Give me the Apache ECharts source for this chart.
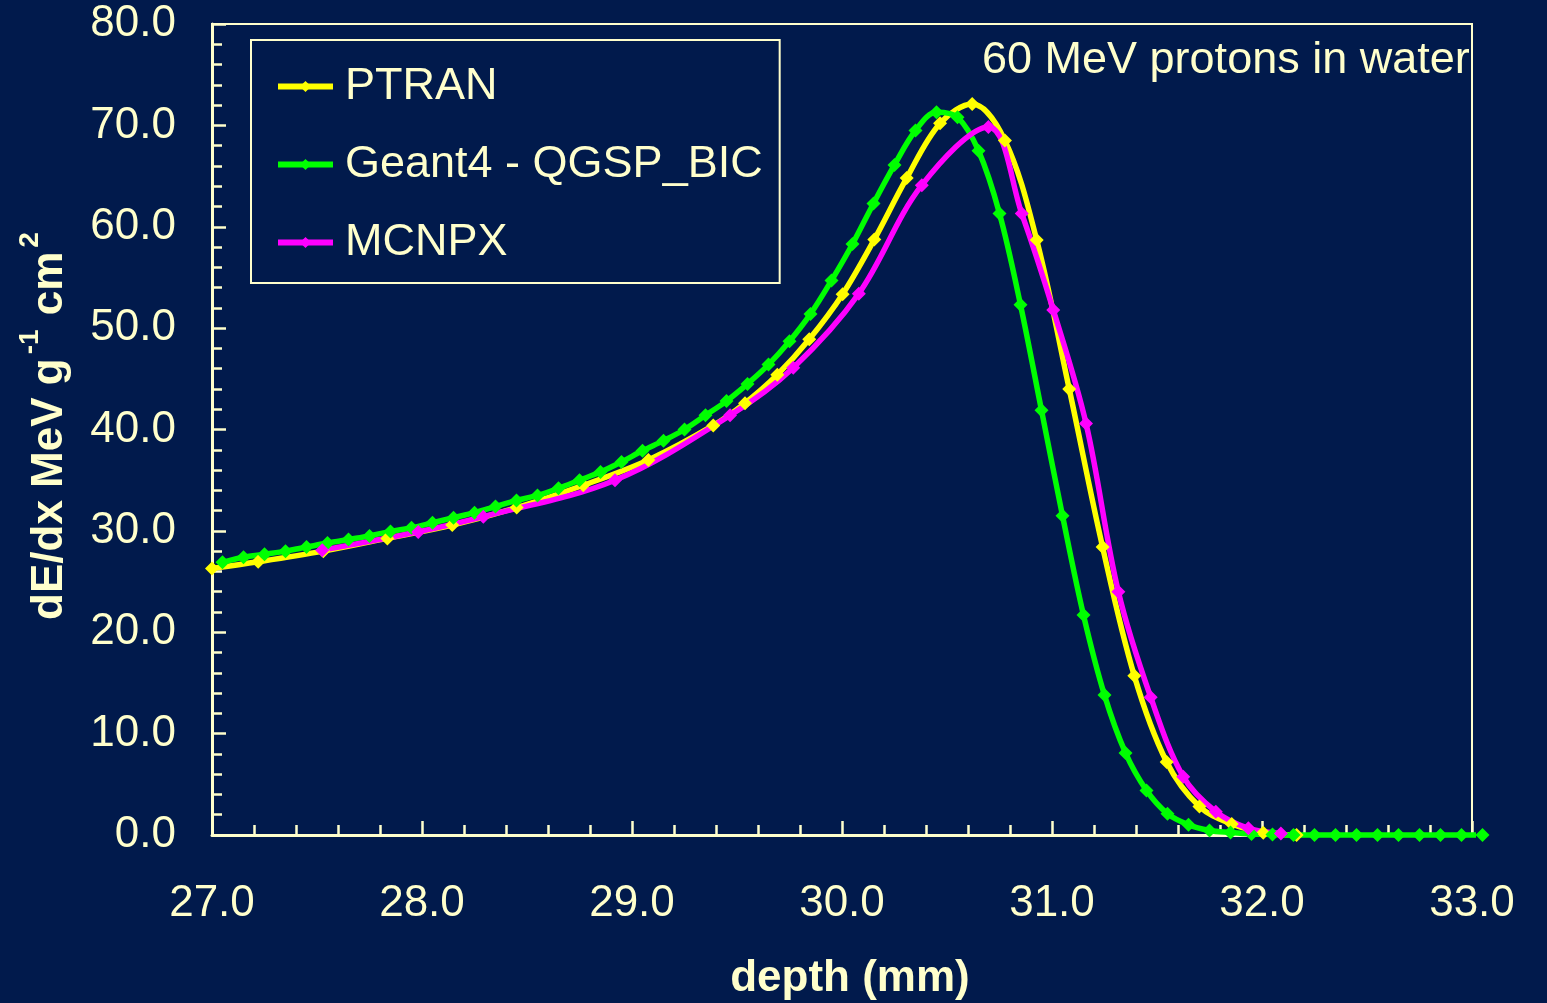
<!DOCTYPE html>
<html>
<head>
<meta charset="utf-8">
<title>Bragg peak – 60 MeV protons in water</title>
<script src="https://cdn.jsdelivr.net/npm/echarts@6/dist/echarts.min.js"></script>
<style>
  html, body { margin: 0; padding: 0; background: #011A4C; }
  #chart { width: 1547px; height: 1003px; }
</style>
</head>
<body>
<div id="chart"></div>
<script>
// Stopping power dE/dx (MeV g^-1 cm^2) versus depth (mm) for three transport codes
const seriesNames = ['PTRAN', 'Geant4 - QGSP_BIC', 'MCNPX'];

const ptranDepth = [27.0, 27.22, 27.53, 27.835, 28.144, 28.451, 28.768, 29.078, 29.387, 29.538,
  29.692, 29.844, 30.003, 30.154, 30.308, 30.467, 30.62, 30.776, 30.927, 31.082,
  31.241, 31.392, 31.546, 31.702, 31.856, 32.006, 32.165];
const ptranDedx = [26.3, 26.95, 28.0, 29.26, 30.57, 32.3, 34.5, 37.0, 40.4, 42.6,
  45.4, 48.9, 53.35, 58.75, 64.8, 70.2, 72.1, 68.5, 58.7, 44.0,
  28.4, 15.7, 7.2, 2.8, 1.08, 0.23, 0.0];

const geantDepth = [27.05, 27.15, 27.25, 27.35, 27.45, 27.55, 27.65, 27.75, 27.85, 27.95,
  28.05, 28.15, 28.25, 28.35, 28.45, 28.55, 28.65, 28.75, 28.85, 28.95,
  29.05, 29.15, 29.25, 29.35, 29.45, 29.55, 29.65, 29.75, 29.85, 29.95,
  30.05, 30.15, 30.25, 30.35, 30.45, 30.55, 30.65, 30.75, 30.85, 30.95,
  31.05, 31.15, 31.25, 31.35, 31.45, 31.55, 31.65, 31.75, 31.85, 31.95,
  32.05, 32.15, 32.25, 32.35, 32.45, 32.55, 32.65, 32.75, 32.85, 32.95, 33.05];
const geantDedx = [26.9, 27.4, 27.7, 28.0, 28.4, 28.8, 29.15, 29.5, 29.95, 30.3,
  30.8, 31.3, 31.8, 32.4, 33.0, 33.5, 34.2, 35.0, 35.8, 36.8,
  37.9, 38.9, 40.0, 41.4, 42.8, 44.5, 46.4, 48.7, 51.4, 54.7,
  58.3, 62.3, 66.1, 69.5, 71.3, 70.8, 67.5, 61.3, 52.3, 41.9,
  31.5, 21.7, 13.8, 8.1, 4.4, 2.1, 1.0, 0.45, 0.25, 0.1,
  0.05, 0.0, 0.0, 0.0, 0.0, 0.0, 0.0, 0.0, 0.0, 0.0, 0.0];

const mcnpxDepth = [27.525, 27.982, 28.292, 28.919, 29.467, 29.768, 30.08, 30.38, 30.697, 30.856,
  31.006, 31.162, 31.316, 31.47, 31.625, 31.78, 31.935, 32.09];
const mcnpxDedx = [28.1, 29.9, 31.4, 35.0, 41.4, 46.1, 53.4, 64.1, 69.85, 61.3,
  51.8, 40.6, 24.0, 13.6, 5.75, 2.3, 0.66, 0.16];

const xTicks = { min: 27, max: 33, step: 1 };
const yTicks = { min: 0, max: 80, step: 10 };

const annotationText = '60 MeV protons in water';
const xTitle = 'depth (mm)';

const CREAM = '#FFFFCC';
const FONT = '"Liberation Sans", Arial, Helvetica, sans-serif';

function pairs(xs, ys) { return xs.map((x, i) => [x, ys[i]]); }

function lineSeries(name, color, xs, ys, clip) {
  return {
    name: name,
    type: 'line',
    data: pairs(xs, ys),
    smooth: 0.35,
    clip: clip,
    symbol: 'diamond',
    symbolSize: 14,
    showAllSymbol: true,
    lineStyle: { color: color, width: 5.5 },
    itemStyle: { color: color },
    emphasis: { disabled: true },
    animation: false
  };
}

const chart = echarts.init(document.getElementById('chart'));
chart.setOption({
  backgroundColor: '#011A4C',
  animation: false,
  textStyle: { fontFamily: FONT },
  grid: {
    left: 212, right: 75, top: 24, bottom: 168,
    show: true, borderColor: CREAM, borderWidth: 2, backgroundColor: 'transparent'
  },
  legend: {
    data: seriesNames,
    orient: 'vertical',
    left: 251, top: 40,
    padding: [24, 17, 18, 24],
    itemGap: 33,
    itemWidth: 55,
    itemHeight: 14,
    borderColor: CREAM,
    borderWidth: 2,
    backgroundColor: 'transparent',
    selectedMode: false,
    lineStyle: { width: 6 },
    textStyle: { color: CREAM, fontSize: 45, fontFamily: FONT, padding: [0, 0, 0, 7] }
  },
  xAxis: {
    type: 'value',
    min: xTicks.min, max: xTicks.max, interval: xTicks.step,
    axisLine: { lineStyle: { color: CREAM, width: 3 } },
    axisTick: { inside: true, length: 14, lineStyle: { color: CREAM, width: 2.5 } },
    minorTick: { show: true, splitNumber: 5, length: 10, lineStyle: { color: CREAM, width: 2.5 } },
    splitLine: { show: false },
    axisLabel: {
      color: CREAM, fontSize: 44, fontFamily: FONT, margin: 47,
      formatter: v => v.toFixed(1)
    }
  },
  yAxis: {
    type: 'value',
    min: yTicks.min, max: yTicks.max, interval: yTicks.step,
    axisLine: { show: true, lineStyle: { color: CREAM, width: 3 } },
    axisTick: { show: true, inside: true, length: 14, lineStyle: { color: CREAM, width: 2.5 } },
    minorTick: { show: true, splitNumber: 5, length: 10, lineStyle: { color: CREAM, width: 2.5 } },
    splitLine: { show: false },
    axisLabel: {
      color: CREAM, fontSize: 44, fontFamily: FONT, margin: 36,
      formatter: v => v.toFixed(1)
    }
  },
  graphic: [
    {
      type: 'text', left: 982, top: 38, silent: true,
      style: { text: annotationText, fill: CREAM, font: '45px ' + FONT }
    },
    {
      type: 'text', x: 850, y: 979, silent: true,
      style: { text: xTitle, fill: CREAM, font: 'bold 44px ' + FONT, align: 'center', verticalAlign: 'middle' }
    },
    {
      type: 'text', x: 44, y: 425, rotation: Math.PI / 2, silent: true,
      style: {
        text: '{m|dE/dx MeV g}{s|-1}{m| cm}{s|2}',
        fill: CREAM, align: 'center', verticalAlign: 'middle',
        rich: {
          m: { font: 'bold 44px ' + FONT, fill: CREAM, lineHeight: 56, verticalAlign: 'bottom' },
          s: { font: 'bold 28px ' + FONT, fill: CREAM, lineHeight: 56, verticalAlign: 'top', padding: [0, 2, 0, 4] }
        }
      }
    }
  ],
  series: [
    lineSeries(seriesNames[0], '#FFFF00', ptranDepth, ptranDedx, true),
    lineSeries(seriesNames[1], '#00FF00', geantDepth, geantDedx, false),
    lineSeries(seriesNames[2], '#FF00FF', mcnpxDepth, mcnpxDedx, true)
  ]
});
</script>
</body>
</html>
